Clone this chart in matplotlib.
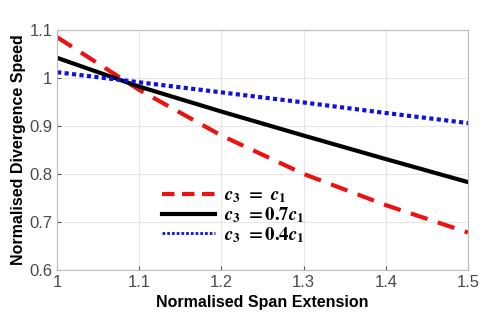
import numpy as np
import matplotlib.pyplot as plt
from matplotlib.lines import Line2D

span = [1.0, 1.1, 1.2, 1.3, 1.4, 1.5]
speed_c1 = [1.085, 0.975, 0.880, 0.800, 0.735, 0.678]
speed_07c1 = [1.042, 0.982, 0.930, 0.880, 0.831, 0.783]
speed_04c1 = [1.012, 0.991, 0.970, 0.949, 0.927, 0.906]

xticks = [1, 1.1, 1.2, 1.3, 1.4, 1.5]
xticklabels = ['1', '1.1', '1.2', '1.3', '1.4', '1.5']
yticks = [0.6, 0.7, 0.8, 0.9, 1.0, 1.1]
yticklabels = ['0.6', '0.7', '0.8', '0.9', '1', '1.1']

plt.rcParams['font.family'] = ['Liberation Sans', 'DejaVu Sans']
plt.rcParams['mathtext.fontset'] = 'stix'

fig = plt.figure(figsize=(4.84, 3.26), dpi=100)
ax = fig.add_axes([0.118, 0.172, 0.849, 0.736])

ax.plot(span, speed_c1, color='#ee1111', lw=3, dashes=(4.2, 2.6))
ax.plot(span, speed_07c1, color='black', lw=3)
ax.plot(span, speed_04c1, color='#1111dd', lw=3, linestyle=(0, (1, 0.8)))

ax.set_xlim(1, 1.5)
ax.set_ylim(0.6, 1.1)
ax.set_xticks(xticks)
ax.set_xticklabels(xticklabels)
ax.set_yticks(yticks)
ax.set_yticklabels(yticklabels)
ax.tick_params(labelsize=12, colors='#555555', length=3, direction='in')
for lbl in ax.get_xticklabels() + ax.get_yticklabels():
    lbl.set_color('#4a4a4a')
ax.grid(True, color='#e6e6e6', lw=0.8)
for s in ax.spines.values():
    s.set_color('#bbbbbb')
    s.set_linewidth(0.8)

ax.set_xlabel('Normalised Span Extension', fontsize=11.5, fontweight='bold', labelpad=4)
ax.set_ylabel('Normalised Divergence Speed', fontsize=11.5, fontweight='bold', labelpad=2)

handles = [
    Line2D([], [], color='#ee1111', lw=3, dashes=(3, 1.8)),
    Line2D([], [], color='black', lw=3),
    Line2D([], [], color='#1111dd', lw=2, linestyle=(0, (1, 0.7))),
]
labels = [r'$\mathbfit{c}_\mathbf{3}$ $\mathbf{=}$ $\mathbfit{c}_\mathbf{1}$',
          r'$\mathbfit{c}_\mathbf{3}$ $\mathbf{=0.7}\mathbfit{c}_\mathbf{1}$',
          r'$\mathbfit{c}_\mathbf{3}$ $\mathbf{=0.4}\mathbfit{c}_\mathbf{1}$']
ax.legend(handles, labels, frameon=False, fontsize=13.5, handlelength=2.8,
          handletextpad=0.5, labelspacing=0.0, loc='upper left',
          bbox_to_anchor=(0.238, 0.375), borderaxespad=0)

fig.savefig('out.png', dpi=100)
